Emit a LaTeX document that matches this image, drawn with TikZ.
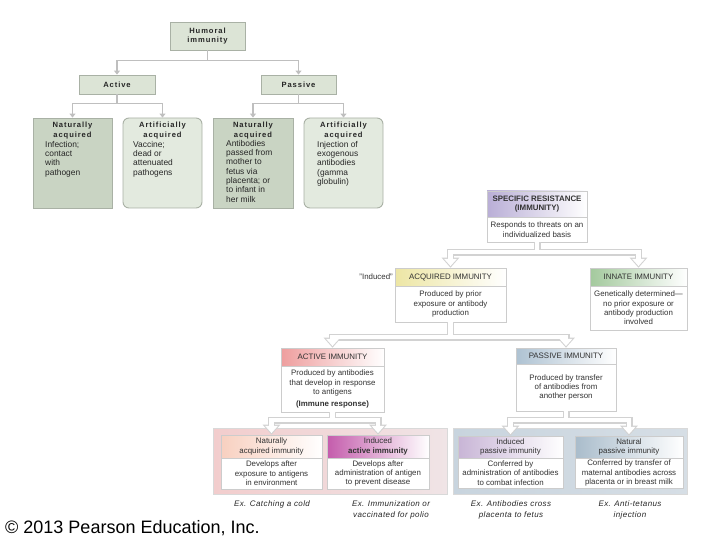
\documentclass[tikz,border=0pt]{standalone}
\usepackage{fontspec}
\setmainfont{Liberation Sans}
\newfontfamily\spfont[LetterSpace=12]{Liberation Sans}
\newfontfamily\exfont[LetterSpace=5]{Liberation Sans}
\usetikzlibrary{arrows.meta,calc,fit,shadows}
\definecolor{tlborder}{HTML}{A9B1A5}
\definecolor{tlfill}{HTML}{DCE4D6}
\definecolor{tldarkc}{HTML}{C9D4C3}
\definecolor{tllightc}{HTML}{E3EADF}
\definecolor{hdspec}{HTML}{B9AED6}
\definecolor{hdacq}{HTML}{EDE6A4}
\definecolor{hdinn}{HTML}{A3C99D}
\definecolor{hdact}{HTML}{EE9E9E}
\definecolor{hdpas}{HTML}{AEC2D2}
\definecolor{hdnai}{HTML}{F8D0C0}
\definecolor{hdiai}{HTML}{C45CAC}
\definecolor{hdipi}{HTML}{C8B5D6}
\definecolor{hdnpi}{HTML}{A9BCCB}
\definecolor{pinkL}{HTML}{F2CDCD}
\definecolor{pinkR}{HTML}{F0E4E6}
\definecolor{blueL}{HTML}{C8D4DE}
\definecolor{blueR}{HTML}{D6DEE5}
\tikzset{
  tlbox/.style={draw=tlborder, line width=0.9pt, fill=tlfill, inner sep=0pt},
  tldark/.style={tlbox, fill=tldarkc},
  tllight/.style={tlbox, fill=tllightc, rounded corners=6pt},
  tltitle/.style={font=\spfont\bfseries\fontsize{7.6}{9.5}\selectfont, align=center, text=black!85, inner sep=0pt},
  tlbody/.style={font=\fontsize{8.4}{9.3}\selectfont, align=left, text=black!85, inner sep=0pt, anchor=north west},
  tlline/.style={draw=gray!50, line width=1.8pt, -{Triangle[length=4pt,width=6pt]}},
  rbox/.style={draw=gray!40, line width=0.6pt, fill=white, inner sep=0pt,
    drop shadow={shadow xshift=1.3pt, shadow yshift=-1.3pt, fill=black, opacity=0.22}},
  rhead/.style={draw=gray!40, line width=0.6pt, inner sep=0pt},
  rtext/.style={font=\fontsize{7.9}{9.4}\selectfont, align=center, text=black!80, inner sep=0pt},
  panel/.style={draw=gray!30, line width=0.6pt, inner sep=0pt,
    drop shadow={shadow xshift=1.3pt, shadow yshift=-1.3pt, fill=black, opacity=0.15}},
  band/.style={draw=gray!35, line width=7pt, -{Triangle[length=10pt,width=17pt]}},
  bandin/.style={draw=white, line width=4.2pt, -{Triangle[length=7.2pt,width=12.4pt]}, shorten >=1.6pt},
  extext/.style={font=\exfont\itshape\fontsize{8}{11}\selectfont, align=center, anchor=north, inner sep=0pt, text=black!85}
}
\newcommand\rbx[9]{%
  \node[rbox, fit={(#2,#3)(#4,#6)}] (#1) {};
  \node[rhead, left color=#7, right color=white, fit={(#2,#3)(#4,#5)}] (#1H) {};
  \node[rtext] (#1Ht) at (#1H.center) {#8};
  \node[rtext] (#1Bt) at ($(#2,#5)!0.5!(#4,#6)$) {#9};
}
\begin{document}
\begin{tikzpicture}[x=1pt,y=-1pt]
\useasboundingbox (0,0) rectangle (720,540);
\fill[white] (0,0) rectangle (720,540);

% ---------- top-left: humoral immunity ----------
\node[tlbox, fit={(170,22)(245,50)}] (hum) {};
\node[tltitle] (humt) at (hum.center) {Humoral\\immunity};
\node[tlbox, fit={(79,75)(155,94)}] (act0) {};
\node[tltitle] (act0t) at (act0.center) {Active};
\node[tlbox, fit={(261,75)(336,94)}] (pas0) {};
\node[tltitle] (pas0t) at (pas0.center) {Passive};

\node[tldark, fit={(33,118)(112,208)}] (c1) {};
\node[tllight, fit={(123,118)(202,208)}] (c2) {};
\node[tldark, fit={(213,118)(293,208)}] (c3) {};
\node[tllight, fit={(304,118)(383,208)}] (c4) {};

\node[tltitle, anchor=north] (c1t) at (c1.north |- 0,122) {Naturally\\acquired};
\node[tltitle, anchor=north] (c2t) at (c2.north |- 0,122) {Artificially\\acquired};
\node[tltitle, anchor=north] (c3t) at (c3.north |- 0,122) {Naturally\\acquired};
\node[tltitle, anchor=north] (c4t) at (c4.north |- 0,122) {Artificially\\acquired};

\node[tlbody] (c1b) at (45,141) {Infection;\\contact\\with\\pathogen};
\node[tlbody] (c2b) at (133,141) {Vaccine;\\dead or\\attenuated\\pathogens};
\node[tlbody] (c3b) at (226,140) {Antibodies\\passed from\\mother to\\fetus via\\placenta; or\\to infant in\\her milk};
\node[tlbody] (c4b) at (317,141) {Injection of\\exogenous\\antibodies\\(gamma\\globulin)};

\draw[tlline] (hum.south) -- ++(0,10) -| (act0.north);
\draw[tlline] (hum.south) -- ++(0,10) -| (pas0.north);
\draw[tlline] (act0.south) -- ++(0,9) -| (c1.north);
\draw[tlline] (act0.south) -- ++(0,9) -| (c2.north);
\draw[tlline] (pas0.south) -- ++(0,9) -| (c3.north);
\draw[tlline] (pas0.south) -- ++(0,9) -| (c4.north);

% ---------- right: specific resistance ----------
\node[panel, left color=pinkL, right color=pinkR, fit={(213,428)(447,494)}] (pnlA) {};
\node[panel, left color=blueL, right color=blueR, fit={(453,428)(687,494)}] (pnlP) {};

\rbx{spec}{487}{191}{587}{217}{242}{hdspec}{\textbf{SPECIFIC RESISTANCE}\\\textbf{(IMMUNITY)}}{Responds to threats on an\\individualized basis}
\rbx{acq}{395}{268}{506}{286}{322}{hdacq}{ACQUIRED IMMUNITY}{Produced by prior\\exposure or antibody\\production}
\rbx{inn}{590}{268}{687}{286}{330}{hdinn}{INNATE IMMUNITY}{Genetically determined—\\no prior exposure or\\antibody production\\involved}
\rbx{act}{281}{348}{384}{366}{412}{hdact}{ACTIVE IMMUNITY}{Produced by antibodies\\that develop in response\\to antigens\\[2.5pt]\textbf{(Immune response)}}
\rbx{pas}{516}{348}{616}{364}{411}{hdpas}{PASSIVE IMMUNITY}{Produced by transfer\\of antibodies from\\another person}
\rbx{nai}{221}{435}{322}{458}{489}{hdnai}{Naturally\\acquired immunity}{Develops after\\exposure to antigens\\in environment}
\rbx{iai}{327}{435}{429}{458}{489}{hdiai}{Induced\\\textbf{active immunity}}{Develops after\\administration of antigen\\to prevent disease}
\rbx{ipi}{458}{436}{563}{458}{488}{hdipi}{Induced\\passive immunity}{Conferred by\\administration of antibodies\\to combat infection}
\rbx{npi}{575}{436}{683}{458}{488}{hdnpi}{Natural\\passive immunity}{Conferred by transfer of\\maternal antibodies across\\placenta or in breast milk}

\node[rtext, anchor=east] (induced) at (393,277) {"Induced"};

% hollow connectors
\draw[band] (spec.south) -- ++(0,10) -| (acq.north);
\draw[band] (spec.south) -- ++(0,10) -| (inn.north);
\draw[band] (acq.south) -- ++(0,15) -| (act.north);
\draw[band] (acq.south) -- ++(0,15) -| (pas.north);
\draw[band] (act.south) -- ++(0,8) -| (nai.north);
\draw[band] (act.south) -- ++(0,8) -| (iai.north);
\draw[band] (pas.south) -- ++(0,9) -| (ipi.north);
\draw[band] (pas.south) -- ++(0,9) -| (npi.north);
\draw[bandin] (spec.south) -- ++(0,10) -| (acq.north);
\draw[bandin] (spec.south) -- ++(0,10) -| (inn.north);
\draw[bandin] (acq.south) -- ++(0,15) -| (act.north);
\draw[bandin] (acq.south) -- ++(0,15) -| (pas.north);
\draw[bandin] (act.south) -- ++(0,8) -| (nai.north);
\draw[bandin] (act.south) -- ++(0,8) -| (iai.north);
\draw[bandin] (pas.south) -- ++(0,9) -| (ipi.north);
\draw[bandin] (pas.south) -- ++(0,9) -| (npi.north);

% examples
\node[extext] (ex1) at (272,500) {Ex. Catching a cold};
\node[extext] (ex2) at (391,500) {Ex. Immunization or\\vaccinated for polio};
\node[extext] (ex3) at (511,500) {Ex. Antibodies cross\\placenta to fetus};
\node[extext] (ex4) at (630,500) {Ex. Anti-tetanus\\injection};

\node[font=\fontsize{18}{20}\selectfont, anchor=west, inner sep=0pt] (copy) at (5,528) {© 2013 Pearson Education, Inc.};
\end{tikzpicture}
\end{document}
